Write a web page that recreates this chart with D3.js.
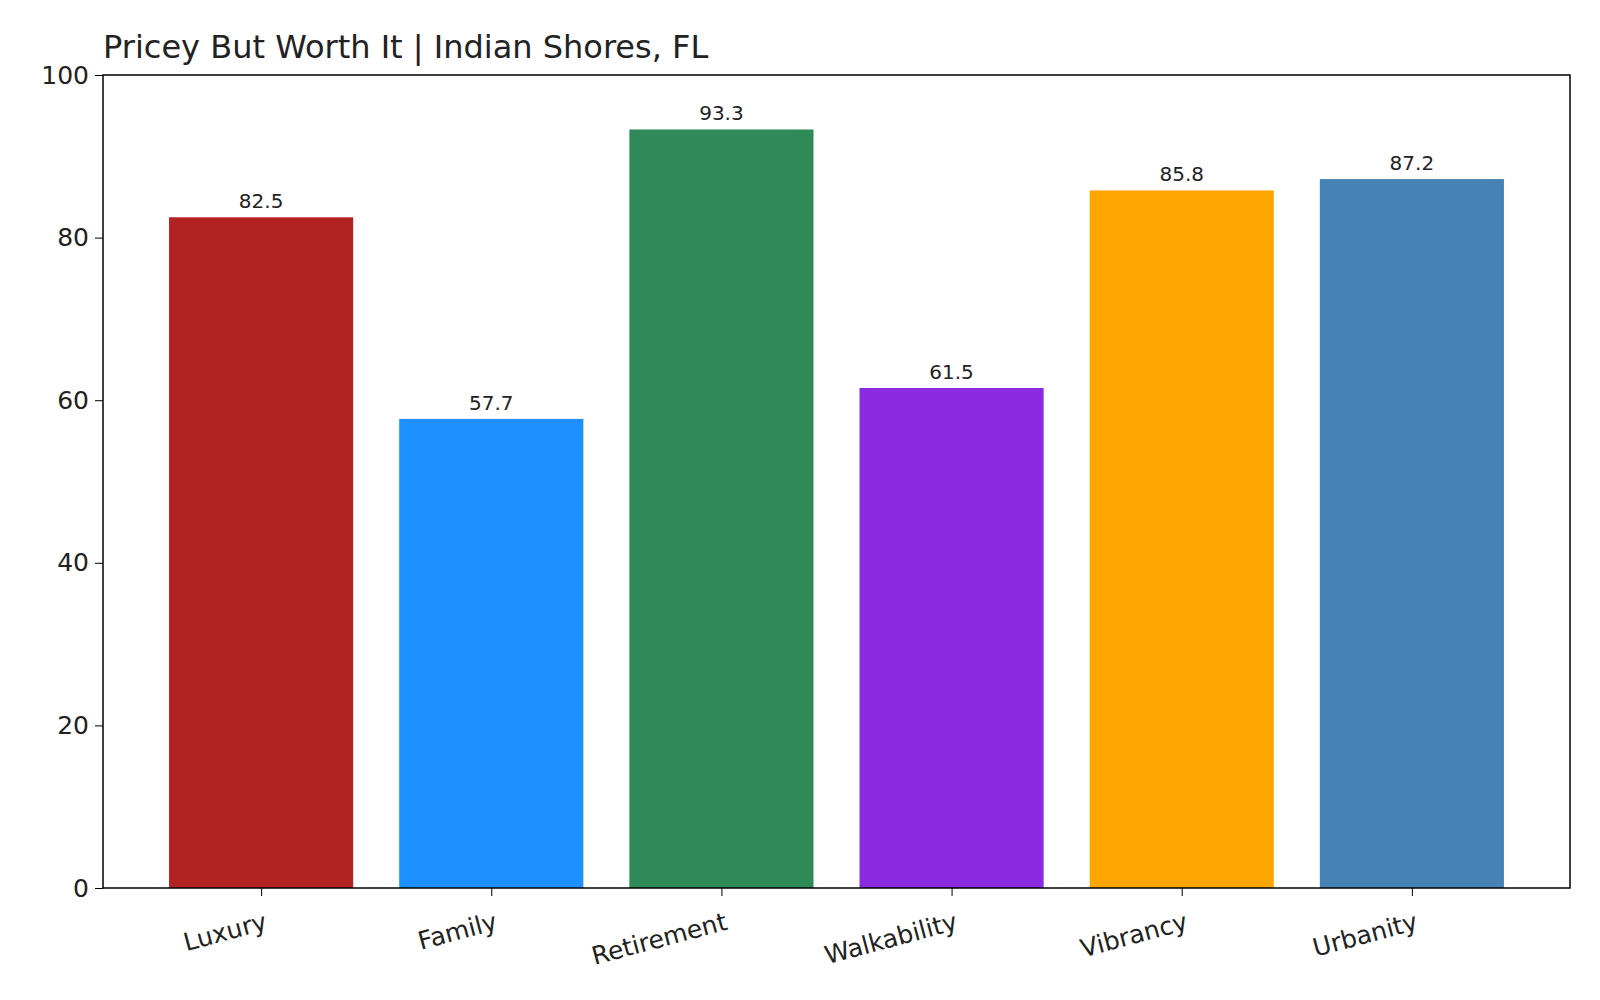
<!DOCTYPE html>
<html>
<head>
<meta charset="utf-8">
<script src="https://cdn.jsdelivr.net/npm/d3@7"></script>
<style>
  body { margin: 0; background: #fff; }
  text { font-family: "DejaVu Sans", sans-serif; fill: #222; }
</style>
</head>
<body>
<svg id="chart" width="1600" height="1000"></svg>
<script>
const categories = ['Luxury', 'Family', 'Retirement', 'Walkability', 'Vibrancy', 'Urbanity'];
const values = [82.5, 57.7, 93.3, 61.5, 85.8, 87.2];
const colors = ['#b22222', '#1e90ff', '#2e8b57', '#8a2be2', '#ffa500', '#4682b4'];
const yTicks = [0, 20, 40, 60, 80, 100];
const title = 'Pricey But Worth It | Indian Shores, FL';

const margin = { top: 75, right: 30, bottom: 112, left: 103 };
const width = 1600, height = 1000;
const innerWidth = width - margin.left - margin.right;
const innerHeight = height - margin.top - margin.bottom;

const svg = d3.select('#chart');
const g = svg.append('g').attr('transform', `translate(${margin.left},${margin.top})`);

// matplotlib-like xlim around bar positions
const x = d3.scaleLinear().domain([-0.687, categories.length - 1 + 0.687]).range([0, innerWidth]);
const y = d3.scaleLinear().domain([0, 100]).range([innerHeight, 0]);
const barW = 0.8;

g.selectAll('rect.bar')
  .data(values)
  .join('rect')
  .attr('class', 'bar')
  .attr('x', (d, i) => x(i - barW / 2))
  .attr('width', x(barW) - x(0))
  .attr('y', d => y(d))
  .attr('height', d => y(0) - y(d))
  .attr('fill', (d, i) => colors[i]);

g.selectAll('text.val')
  .data(values)
  .join('text')
  .attr('class', 'val')
  .attr('x', (d, i) => x(i))
  .attr('y', d => y(d) - 9)
  .attr('text-anchor', 'middle')
  .attr('font-size', 20)
  .text(d => d.toFixed(1));

// y axis
const yAxis = g.append('g').call(d3.axisLeft(y).tickValues(yTicks).tickSize(8).tickPadding(6));
yAxis.selectAll('text').attr('font-size', 25);
yAxis.select('.domain').remove();

// x axis
const xAxis = g.append('g')
  .attr('transform', `translate(0,${innerHeight})`)
  .call(d3.axisBottom(x).tickValues(d3.range(categories.length)).tickSize(8).tickFormat(i => categories[i]));
xAxis.select('.domain').remove();
xAxis.selectAll('text')
  .attr('font-size', 25)
  .attr('text-anchor', 'end')
  .attr('dy', 0)
  .attr('transform', 'translate(0,16) rotate(-15)')
  .attr('x', 0).attr('y', 26);

// frame
g.append('rect')
  .attr('width', innerWidth).attr('height', innerHeight)
  .attr('fill', 'none').attr('stroke', '#000').attr('stroke-width', 1.5);

svg.append('text')
  .attr('x', margin.left).attr('y', 58)
  .attr('font-size', 32)
  .text(title);
</script>
</body>
</html>
